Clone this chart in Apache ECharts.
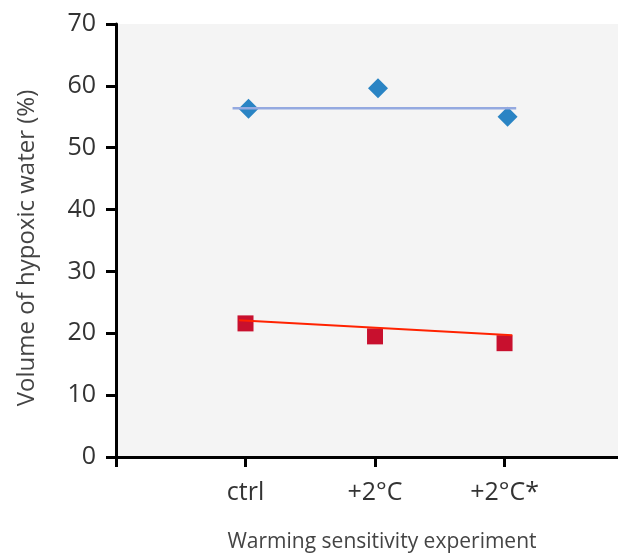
<!DOCTYPE html>
<html>
<head>
<meta charset="utf-8">
<script src="https://cdn.jsdelivr.net/npm/echarts@6/dist/echarts.min.js"></script>
<style>html,body{margin:0;padding:0;background:#fff}#c{width:618px;height:553px}</style>
</head>
<body>
<div id="c"></div>
<script>
const categories = ['ctrl', '+2°C', '+2°C*'];
const categoryPos = [1, 2, 3];
const blueValues = [56.3, 59.6, 55.0];
const redValues = [21.6, 19.5, 18.4];
const blueTrend = [[0.90, 56.4], [3.09, 56.4]];
const redTrend = [[0.95, 22.1], [3.06, 19.7]];
const yTicks = [0, 10, 20, 30, 40, 50, 60, 70];

const chart = echarts.init(document.getElementById('c'), null, {renderer: 'canvas'});
const font = '"Open Sans", "Noto Sans", sans-serif';
chart.setOption({
  animation: false,
  grid: {left: 116, right: 0, top: 24, bottom: 96, show: true, backgroundColor: '#f4f4f4', borderWidth: 0,
         containLabel: false, outerBoundsMode: 'none'},
  xAxis: {
    type: 'value', min: 0, max: 3.876, interval: 1,
    name: 'Warming sensitivity experiment', nameLocation: 'middle', nameGap: 75,
    nameTextStyle: {fontFamily: font, fontSize: 21, color: '#444', padding: [0, 0, 0, 30]},
    axisLine: {show: true, lineStyle: {color: '#000', width: 3}},
    axisTick: {show: true, length: 10, lineStyle: {color: '#000', width: 3}},
    axisLabel: {
      show: true, margin: 23, fontFamily: font, fontSize: 25, color: '#333',
      showMaxLabel: false,
      formatter: v => { const i = categoryPos.indexOf(v); return i >= 0 ? categories[i] : ''; }
    },
    splitLine: {show: false}
  },
  yAxis: {
    type: 'value', min: yTicks[0], max: yTicks[yTicks.length - 1], interval: 10,
    name: 'Volume of hypoxic water (%)', nameLocation: 'middle', nameGap: 77,
    nameTextStyle: {fontFamily: font, fontSize: 24, color: '#444', padding: [0, 15, 0, 0]},
    axisLine: {show: true, lineStyle: {color: '#000', width: 3}},
    axisTick: {show: true, length: 10, lineStyle: {color: '#000', width: 3}},
    axisLabel: {margin: 20, fontFamily: font, fontSize: 25, color: '#333'},
    splitLine: {show: false}
  },
  series: [
    {type: 'scatter', symbol: 'diamond', symbolSize: [20, 20], symbolOffset: [3, 0],
     itemStyle: {color: '#2a84c4', opacity: 1},
     data: categoryPos.map((x, i) => [x, blueValues[i]])},
    {type: 'scatter', symbol: 'rect', symbolSize: 16,
     itemStyle: {color: '#c8102e', opacity: 1},
     data: categoryPos.map((x, i) => [x, redValues[i]])},
    {type: 'line', data: blueTrend, symbol: 'none', lineStyle: {color: '#94a9e0', width: 2.5}, z: 5},
    {type: 'line', data: redTrend, symbol: 'none', lineStyle: {color: '#ff2200', width: 2}, z: 5}
  ]
});
</script>
</body>
</html>
